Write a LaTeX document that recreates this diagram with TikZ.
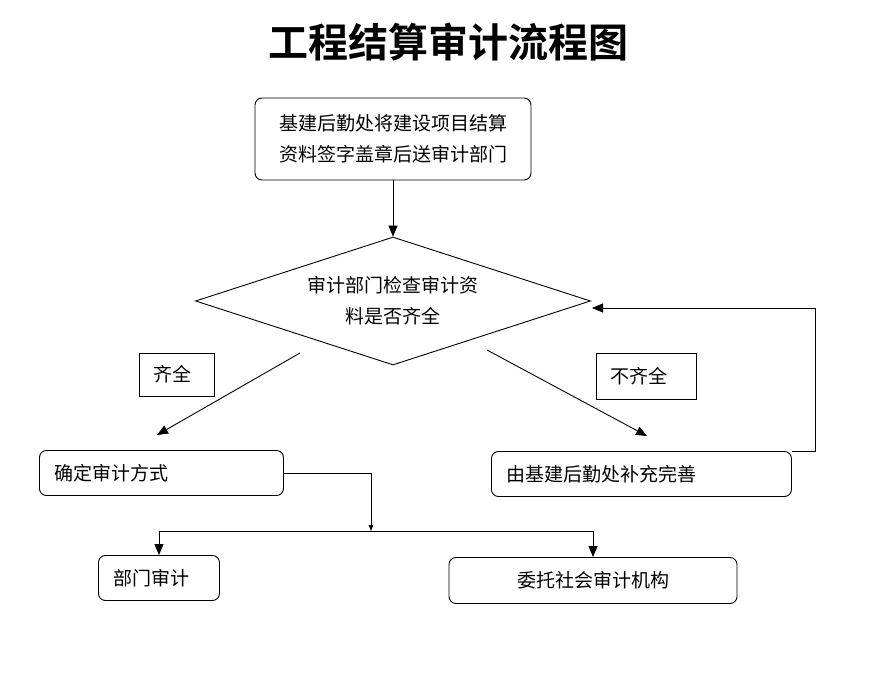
\documentclass[tikz,border=0pt]{standalone}
\usepackage{fontspec}
\setmainfont{Noto Sans CJK SC}
\newfontfamily\titlefont{Noto Sans CJK SC Bold}
\usetikzlibrary{arrows.meta, shapes.geometric}

\begin{document}
\begin{tikzpicture}[x=1pt, y=-1pt, >={Triangle[length=11pt, width=9pt]},
    line width=0.9pt,
    box/.style={rectangle, draw, rounded corners=7pt, minimum height=45pt,
                inner xsep=15pt, align=left, font=\fontsize{19}{31}\selectfont},
    tagbox/.style={rectangle, draw, sharp corners, inner xsep=14pt, align=left,
                font=\fontsize{19}{31}\selectfont},
    check/.style={diamond, draw, aspect=3.1, inner sep=0pt, minimum width=395pt,
                minimum height=128pt, align=center, font=\fontsize{19}{31}\selectfont}]

    \useasboundingbox (0,0) rectangle (896,700);

    \node (title) at (448,42) {\titlefont\fontsize{40}{48}\selectfont 工程结算审计流程图};

    \node[box, align=center, minimum width=276pt, minimum height=82pt] (submit) at (393,139)
        {基建后勤处将建设项目结算\\资料签字盖章后送审计部门};
    \node[check] (verify) at (393,301) {审计部门检查审计资\\料是否齐全};

    \node[tagbox, anchor=west, text width=47pt, minimum height=43pt] (full) at (139,374.5) {齐全};
    \node[tagbox, anchor=west, text width=72pt, minimum height=46pt] (notfull) at (596,376) {不齐全};

    \node[box, anchor=west, text width=214pt] (mode) at (39,473) {确定审计方式};
    \node[box, anchor=west, text width=270pt] (supply) at (491,474) {由基建后勤处补充完善};
    \node[box, anchor=west, text width=91pt] (dept) at (98,578) {部门审计};
    \node[box, align=center, minimum width=288pt, minimum height=46pt] (agency) at (593,580.5)
        {委托社会审计机构};

    \coordinate (okfrom) at (300,353);
    \coordinate (okto) at (157,435);
    \coordinate (nofrom) at (487,350);
    \coordinate (noto) at (647,436);
    \coordinate (backin) at (592,308);
    \coordinate (joint) at (371,531);

    \draw[->] (submit) -- (verify.north);
    \draw[->] (okfrom) -- (okto);
    \draw[->] (nofrom) -- (noto);
    \draw[->] (supply.north east) -- ++(24,0) |- (backin);
    \draw[-{Triangle[length=6pt, width=4.5pt]}] (mode.east) -| (joint);
    \draw (joint -| dept.north) -- (joint -| agency.north);
    \draw[->] (joint -| dept.north) -- (dept.north);
    \draw[->] (joint -| agency.north) -- (agency.north);
\end{tikzpicture}
\end{document}
